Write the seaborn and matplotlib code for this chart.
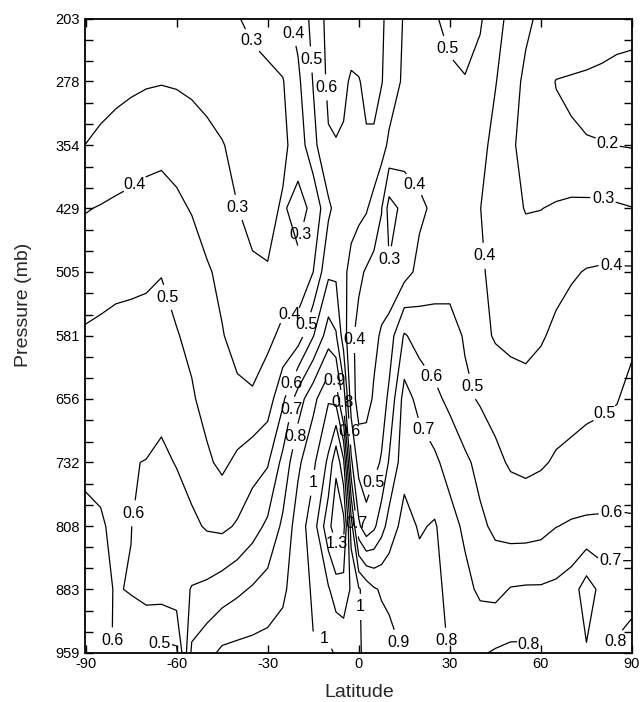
import numpy as np
import pandas as pd
import matplotlib
matplotlib.use("Agg")
import matplotlib.pyplot as plt
from matplotlib.ticker import FixedLocator
import seaborn as sns

# ---- data: field values on a latitude x pressure grid ----
lats = [-90, -85, -80, -75, -70, -65, -60, -55, -50, -45, -40, -35, -30, -25, -20, -15,
        -10, -7.5, -5, -2.5, 0, 2.5, 5, 7.5, 10, 15, 20, 25, 30, 35, 40, 45, 50, 55,
        60, 65, 70, 75, 80, 85, 90]
pressures = [203, 278, 354, 429, 505, 581, 656, 732, 808, 883, 959]

z_203 = [0.24, 0.24, 0.24, 0.25, 0.25, 0.25, 0.25, 0.26, 0.27, 0.28, 0.295, 0.32, 0.34, 0.37, 0.43, 0.53,
         0.63, 0.66, 0.67, 0.67, 0.66, 0.65, 0.64, 0.61, 0.58, 0.49, 0.46, 0.49, 0.53, 0.54, 0.51, 0.44, 0.37, 0.32,
         0.28, 0.26, 0.25, 0.245, 0.23, 0.22, 0.215]
z_278 = [0.25, 0.26, 0.27, 0.28, 0.29, 0.295, 0.29, 0.28, 0.275, 0.27, 0.27, 0.27, 0.28, 0.295, 0.38, 0.505,
         0.62, 0.635, 0.625, 0.585, 0.595, 0.62, 0.63, 0.605, 0.56, 0.48, 0.45, 0.46, 0.48, 0.495, 0.47, 0.405, 0.34, 0.28,
         0.225, 0.198, 0.194, 0.19, 0.188, 0.185, 0.185]
z_354 = [0.301, 0.32, 0.34, 0.36, 0.375, 0.38, 0.37, 0.35, 0.32, 0.303, 0.285, 0.27, 0.27, 0.28, 0.34, 0.47,
         0.59, 0.595, 0.585, 0.575, 0.58, 0.59, 0.585, 0.54, 0.48, 0.45, 0.45, 0.45, 0.46, 0.46, 0.43, 0.37, 0.315, 0.27,
         0.24, 0.215, 0.205, 0.202, 0.201, 0.199, 0.195]
z_429 = [0.395, 0.405, 0.415, 0.42, 0.425, 0.43, 0.415, 0.395, 0.36, 0.33, 0.301, 0.28, 0.275, 0.31, 0.27, 0.32,
         0.48, 0.53, 0.55, 0.55, 0.53, 0.51, 0.46, 0.405, 0.26, 0.33, 0.38, 0.42, 0.44, 0.43, 0.401, 0.37, 0.33, 0.295,
         0.298, 0.31, 0.32, 0.32, 0.32, 0.31, 0.302]
z_505 = [0.455, 0.47, 0.48, 0.485, 0.49, 0.498, 0.47, 0.44, 0.41, 0.38, 0.35, 0.31, 0.305, 0.35, 0.32, 0.40,
         0.58, 0.58, 0.53, 0.46, 0.42, 0.39, 0.37, 0.35, 0.31, 0.36, 0.43, 0.45, 0.46, 0.46, 0.41, 0.38, 0.36, 0.35,
         0.36, 0.37, 0.39, 0.405, 0.41, 0.41, 0.41]
z_581 = [0.51, 0.515, 0.52, 0.52, 0.52, 0.52, 0.505, 0.48, 0.45, 0.405, 0.37, 0.36, 0.38, 0.42, 0.45, 0.595,
         0.75, 0.71, 0.55, 0.42, 0.37, 0.36, 0.38, 0.41, 0.45, 0.61, 0.56, 0.55, 0.54, 0.49, 0.43, 0.39, 0.37, 0.36,
         0.39, 0.42, 0.44, 0.45, 0.46, 0.47, 0.48]
z_656 = [0.547, 0.55, 0.555, 0.56, 0.565, 0.57, 0.55, 0.51, 0.47, 0.44, 0.42, 0.41, 0.45, 0.58, 0.75, 0.87,
         0.99, 0.97, 0.76, 0.45, 0.36, 0.37, 0.41, 0.45, 0.52, 0.74, 0.67, 0.62, 0.58, 0.52, 0.49, 0.47, 0.46, 0.45,
         0.45, 0.46, 0.47, 0.48, 0.485, 0.495, 0.53]
z_732 = [0.583, 0.588, 0.592, 0.597, 0.602, 0.62, 0.595, 0.56, 0.515, 0.48, 0.52, 0.56, 0.59, 0.73, 0.88, 0.98,
         1.12, 1.28, 1.12, 0.62, 0.46, 0.45, 0.47, 0.51, 0.61, 0.76, 0.75, 0.72, 0.66, 0.62, 0.57, 0.52, 0.49, 0.48,
         0.49, 0.51, 0.52, 0.53, 0.54, 0.55, 0.56]
z_808 = [0.62, 0.605, 0.59, 0.598, 0.64, 0.66, 0.65, 0.62, 0.59, 0.58, 0.61, 0.66, 0.72, 0.82, 0.95, 1.05,
         1.27, 1.36, 1.34, 0.95, 0.62, 0.53, 0.58, 0.66, 0.74, 0.84, 0.79, 0.81, 0.74, 0.68, 0.62, 0.58, 0.56, 0.56,
         0.57, 0.598, 0.61, 0.615, 0.615, 0.615, 0.61]
z_883 = [0.65, 0.62, 0.595, 0.605, 0.63, 0.64, 0.66, 0.705, 0.72, 0.75, 0.78, 0.81, 0.84, 0.88, 0.96, 1.01,
         1.09, 1.15, 1.15, 1.09, 1.01, 0.96, 0.91, 0.89, 0.88, 0.85, 0.84, 0.82, 0.78, 0.73, 0.68, 0.67, 0.705, 0.71,
         0.71, 0.72, 0.75, 0.85, 0.77, 0.77, 0.775]
z_959 = [0.65, 0.63, 0.59, 0.55, 0.51, 0.47, 0.48, 0.82, 0.87, 0.92, 0.93, 0.935, 0.94, 0.95, 0.97, 0.995,
         0.98, 1.01, 1.04, 1.04, 1.01, 0.98, 0.96, 0.945, 0.93, 0.895, 0.87, 0.83, 0.795, 0.79, 0.79, 0.81, 0.82, 0.82,
         0.798, 0.78, 0.77, 0.79, 0.78, 0.81, 0.83]

levels = [0.2, 0.3, 0.4, 0.5, 0.6, 0.7, 0.8, 0.9, 1.0, 1.1, 1.2, 1.3]
x_ticks = [-90, -60, -30, 0, 30, 60, 90]
y_ticks = [203, 278, 354, 429, 505, 581, 656, 732, 808, 883, 959]

# contour labels: which level, and near which (lat, pressure) it sits
label_levels = [0.3, 0.4, 0.5, 0.6, 0.5, 0.2, 0.4, 0.3, 0.3, 0.5,
                0.4, 0.3, 0.4, 0.3, 0.4, 0.5, 0.4, 0.4, 0.5, 0.6,
                0.9, 0.6, 0.8, 0.7, 0.7, 0.6, 0.5, 0.8, 0.5, 1.0,
                0.6, 0.7, 0.6, 1.3, 0.7, 1.0, 0.6, 0.5, 1.0, 0.9,
                0.8, 0.8, 0.8]
label_spots = [(-35.1, 229), (-21.0, 220), (-16.1, 252), (-10.5, 285), (30.7, 237),
               (82.1, 351), (-72.7, 406), (-40.8, 429), (-15.1, 464), (-17.0, 568),
               (21.2, 392), (11.3, 494), (40.6, 486), (81.1, 411), (83.7, 463),
               (-62.8, 535), (-25.3, 535), (-2.2, 586), (36.7, 642), (24.5, 628),
               (-7.2, 630), (-22.6, 637), (-5.5, 661), (-22.0, 669), (22.8, 690),
               (-2.2, 695), (84.4, 690), (-19.4, 702), (2.7, 753), (-15.4, 756),
               (-75.3, 792), (1.1, 804), (83.7, 803), (-6.2, 835), (82.8, 852),
               (1.4, 904), (-81.6, 944), (-66.4, 944), (-11.8, 944), (14.6, 944),
               (30.1, 944), (57.1, 944), (83.7, 944)]

rows = [z_203, z_278, z_354, z_429, z_505, z_581, z_656, z_732, z_808, z_883, z_959]
df = pd.DataFrame(rows, index=pressures, columns=lats)

sns.set_theme(style="ticks")
plt.rcParams["font.family"] = ["Liberation Sans", "DejaVu Sans"]

fig = plt.figure(figsize=(6.44, 7.02), dpi=100)
ax = fig.add_axes([85.5 / 644, 1 - 653 / 702, (632 - 85.5) / 644, (653 - 18.5) / 702])

cs = ax.contour(df.columns.values, df.index.values, df.values, levels=levels,
                colors="black", linewidths=0.9)
ax.set_xlim(-90, 90)
ax.set_ylim(959, 203)

fmt = lambda v: f"{v:g}"
try:
    # initialise label settings for all levels, then add each label on its own level
    cs.clabel(fmt=fmt, fontsize=11.5, inline=True, inline_spacing=2, manual=[])
    all_idx = list(cs.labelIndiceList)
    for lev, (lx, ly) in zip(label_levels, label_spots):
        idx = int(np.argmin(np.abs(np.asarray(cs.levels) - lev)))
        cs.labelIndiceList = [idx]
        cs.add_label_near(lx, ly, inline=True, inline_spacing=2)
    cs.labelIndiceList = all_idx
except Exception:
    for t in list(cs.labelTexts):
        t.remove()
    cs.labelTexts.clear()
    cs.clabel(fmt=fmt, fontsize=11.5, inline=True, inline_spacing=2, manual=label_spots)
for t in cs.labelTexts:
    t.set_rotation(0)

ax.xaxis.set_major_locator(FixedLocator(x_ticks))
ax.yaxis.set_major_locator(FixedLocator(y_ticks))
minor = [203 + i * (756 / 30) for i in range(31) if i % 3]
ax.yaxis.set_minor_locator(FixedLocator(minor))
ax.set_xticklabels([str(v) for v in x_ticks])
ax.set_yticklabels([str(v) for v in y_ticks])
ax.tick_params(axis="both", which="both", direction="in", length=5.5, width=1,
               top=True, right=True, labelsize=10.5, colors="black")
ax.tick_params(axis="x", which="minor", bottom=False, top=False)
ax.tick_params(axis="x", pad=3)
ax.tick_params(axis="y", pad=4)
for s in ax.spines.values():
    s.set_linewidth(1.3)
    s.set_color("black")

ax.set_xlabel("Latitude", fontsize=14, labelpad=9)
ax.set_ylabel("Pressure (mb)", fontsize=14)
ax.yaxis.set_label_coords(-0.098, 0.549)

fig.savefig("out.png", dpi=100)
